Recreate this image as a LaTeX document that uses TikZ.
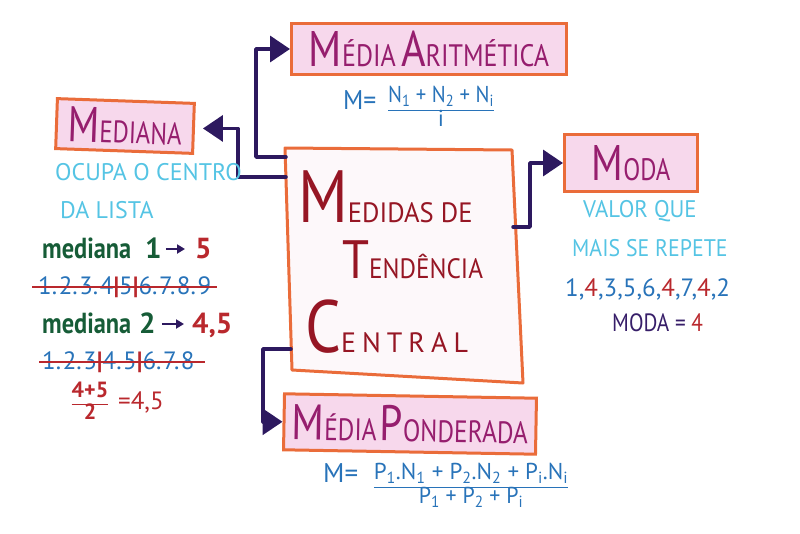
\documentclass[tikz,border=0pt]{standalone}
\usepackage{fontspec}
\usepackage{graphicx}
\setmainfont{PT Sans}
\usetikzlibrary{arrows.meta}

\definecolor{boxorange}{RGB}{234,108,58}
\definecolor{boxpink}{RGB}{247,216,236}
\definecolor{centerfill}{RGB}{253,248,250}
\definecolor{titlecol}{RGB}{150,30,110}
\definecolor{centercol}{RGB}{150,22,36}
\definecolor{linkcol}{RGB}{45,25,95}
\definecolor{formcol}{RGB}{40,115,185}
\definecolor{cyancol}{RGB}{85,196,228}
\definecolor{greencol}{RGB}{22,92,55}
\definecolor{redcol}{RGB}{185,40,45}
\definecolor{modacol}{RGB}{55,30,105}

% letter sizes for the hand-lettered titles
\newcommand\tbig[1]{{\fontsize{50}{50}\selectfont #1}}
\newcommand\tsml[1]{{\fontsize{31}{31}\selectfont #1}}
\newcommand\cbig[1]{{\fontsize{74}{74}\selectfont #1}}
\newcommand\cmid[1]{{\fontsize{54}{54}\selectfont #1}}
\newcommand\csml[1]{{\fontsize{28}{28}\selectfont #1}}
\newcommand\rd[1]{{\color{redcol}#1}}
\newcommand\sub[1]{\textsubscript{#1}}
% narrow a piece of lettering horizontally
\newcommand\sq[2]{\scalebox{#1}[1]{#2}}
% red divider and spaced dot in the number lists
\newcommand\rbar{\rd{\textbf{|}}}
\newcommand\dt{.\kern1.6pt}

\begin{document}
\begin{tikzpicture}[x=1pt,y=-1pt,
  titlebox/.style={draw=boxorange, fill=boxpink, line width=3pt, inner sep=0pt, text=titlecol},
  link/.style={draw=linkcol, line width=3.5pt, line cap=round, line join=round,
               -{Triangle[width=26pt,length=20pt]}},
  note/.style={text=cyancol, font=\fontsize{24}{24}\selectfont, inner sep=0pt},
  formula/.style={text=formcol, font=\fontsize{23}{23}\selectfont, inner sep=0pt},
  medtxt/.style={text=greencol, font=\fontsize{29}{29}\selectfont\bfseries, inner sep=0pt},
  seq/.style={text=formcol, font=\fontsize{25}{25}\selectfont, inner sep=0pt},
  strike/.style={draw=redcol, line width=1.8pt},
  smallarrow/.style={draw=linkcol, line width=2pt, -{Triangle[width=9pt,length=8pt]}}]
\useasboundingbox (0,0) rectangle (800,533);

% ---- central box ----
\draw[draw=boxorange, fill=centerfill, line width=3pt, line join=round]
  (285,148) -- (512,150) -- (523,383) -- (292,370) -- cycle;
\coordinate (cen-a) at (286,157);
\coordinate (cen-m) at (286,177);
\coordinate (cen-r) at (513,227);
\coordinate (cen-p) at (291,349);

\node[anchor=base west, text=centercol, inner sep=0pt] (t1) at (298,222)
  {\sq{0.85}{\cbig{M}}\sq{0.95}{\csml{EDIDAS DE}}};
\node[anchor=base west, text=centercol, inner sep=0pt] (t2) at (342,278)
  {\sq{0.9}{\cmid{T}}\sq{0.9}{\csml{ENDÊNCIA}}};
\node[anchor=base west, text=centercol, inner sep=0pt] (t3) at (305,352)
  {\sq{0.85}{\cbig{C}}\csml{E\kern6pt N\kern6pt T\kern6pt R\kern6pt A\kern6pt L}};

% ---- title boxes ----
\node[titlebox, minimum width=275pt, minimum height=51pt] (arit) at (429,49)
  {\sq{0.84}{\tbig{M}\tsml{ÉDIA}\hspace{6pt}\tbig{A}\tsml{RITMÉTICA}}};
\node[titlebox, minimum width=137pt, minimum height=50pt, rotate=-2] (med) at (125,126)
  {\sq{0.8}{\tbig{M}\tsml{EDIANA}}};
\node[titlebox, minimum width=133pt, minimum height=57pt] (moda) at (631,163)
  {\sq{0.8}{\tbig{M}\tsml{ODA}}};
\node[titlebox, minimum width=252pt, minimum height=56pt, rotate=-1] (pond) at (410,424)
  {\sq{0.82}{\tbig{M}\tsml{ÉDIA}\hspace{4pt}\tbig{P}\tsml{ONDERADA}}};

% ---- connectors ----
\draw[link] (cen-a) -- ++(-30,0) |- (arit.west);
\draw[link, shorten >=8pt] (cen-m) -- ++(-48,0) |- (med.east);
\draw[link] (cen-r) -- ++(17,0) |- (moda.west);
\draw[link] (cen-p) -- ++(-28,0) |- (pond.west);

% ---- media aritmetica formula ----
\node[formula, anchor=west, font=\fontsize{27}{27}\selectfont] (am) at (343,100) {\sq{0.95}{M=}};
\node[formula] (af) at (441,110)
  {\begin{tabular}{@{}c@{}}\sq{0.9}{N\sub{1} + N\sub{2} + N\sub{i}}\\\hline i\end{tabular}};

% ---- mediana notes ----
\node[note, anchor=west] (n1) at (55,172) {OCUPA O CENTRO};
\node[note, anchor=west] (n2) at (60,210) {DA LISTA};

\node[medtxt, anchor=base west] (m1) at (42,258) {\sq{0.84}{mediana}};
\node[medtxt, anchor=base west] (m1n) at (145,258) {1};
\node[medtxt, anchor=base west, text=redcol] (m1v) at (195,258) {5};
\draw[smallarrow] ([xshift=4pt,yshift=9pt]m1n.base east) -- ([xshift=-10pt,yshift=9pt]m1v.base west);

\node[seq, anchor=west] (s1) at (38,287) {1\dt2\dt3\dt4\rbar5\rbar6\dt7\dt8\dt9};
\draw[strike] ([xshift=-6pt]s1.west) -- ([xshift=6pt]s1.east);

\node[medtxt, anchor=base west] (m2) at (42,333) {\sq{0.84}{mediana}};
\node[medtxt, anchor=base west] (m2n) at (139,333) {2};
\node[medtxt, anchor=base west, text=redcol] (m2v) at (192,333) {4,5};
\draw[smallarrow] ([xshift=6pt,yshift=9pt]m2n.base east) -- ([xshift=-8pt,yshift=9pt]m2v.base west);

\node[seq, anchor=west] (s2) at (42,362) {1\dt2\dt3\rbar4\dt5\rbar6\dt7\dt8};
\draw[strike] ([xshift=-3pt]s2.west) -- ([xshift=10pt]s2.east);

\node[seq, text=redcol, font=\fontsize{22}{22}\selectfont\bfseries] (fr) at (90,404)
  {\begin{tabular}{@{}c@{}}4+5\\\hline 2\end{tabular}};
\node[seq, text=redcol, anchor=west] (fv) at (118,402) {=4,5};

% ---- moda notes ----
\node[note, anchor=west] (v1) at (583,211) {\sq{0.95}{VALOR QUE}};
\node[note, anchor=west] (v2) at (572,248) {\sq{0.91}{MAIS SE REPETE}};
\node[seq, anchor=west] (vs) at (565,289) {1,\rd{4},3,5,6,\rd{4},7,\rd{4},2};
\node[seq, anchor=west, text=modacol] (vm) at (612,323) {\sq{0.85}{MODA = \rd{4}}};

% ---- media ponderada formula ----
\node[formula, anchor=west, font=\fontsize{27}{27}\selectfont] (pm) at (323,473) {M=};
\node[formula] (pf) at (471,487)
  {\begin{tabular}{@{}c@{}}P\sub{1}.N\sub{1} + P\sub{2}.N\sub{2} + P\sub{i}.N\sub{i}\\\hline \sq{0.95}{P\sub{1} + P\sub{2} + P\sub{i}}\end{tabular}};
\end{tikzpicture}
\end{document}
